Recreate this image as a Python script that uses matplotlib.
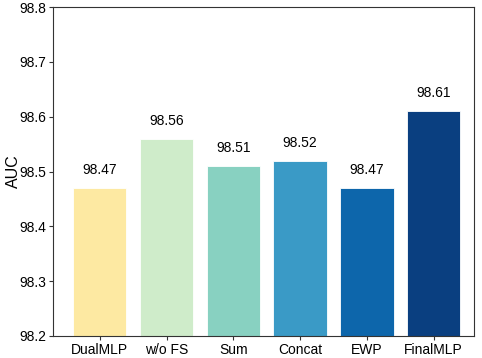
import matplotlib
matplotlib.use('Agg')
import matplotlib.pyplot as plt

# AUC of the model variants
models = ['DualMLP', 'w/o FS', 'Sum', 'Concat', 'EWP', 'FinalMLP']
auc = [98.47, 98.56, 98.51, 98.52, 98.47, 98.61]
colors = ['#fde9a2', '#cfecca', '#88d1c1', '#3a9ac6', '#0d66ab', '#0a3f80']
yticks = [98.2, 98.3, 98.4, 98.5, 98.6, 98.7, 98.8]

plt.rcParams['font.family'] = ['Liberation Sans', 'DejaVu Sans']

fig = plt.figure(figsize=(4.82, 3.58), dpi=100)
ax = fig.add_axes([0.11, 0.0615, 0.873, 0.9185])

x = range(len(models))
bars = ax.bar(x, auc, width=0.8, color=colors, edgecolor='white', linewidth=0.6)
for xi, v in zip(x, auc):
    ax.text(xi, v + 0.02, '%.2f' % v, ha='center', va='bottom', fontsize=10)

ax.set_xlim(-0.7, 5.6)
ax.set_ylim(98.2, 98.8)
ax.set_yticks(yticks)
ax.set_yticklabels(['%.1f' % t for t in yticks], fontsize=10)
ax.set_xticks(list(x))
ax.set_xticklabels(models, fontsize=10)
ax.set_ylabel('AUC', fontsize=11.5, labelpad=-1.5)
ax.tick_params(length=3, width=0.8, color='#333333', pad=2)
for s in ax.spines.values():
    s.set_color('#333333')
    s.set_linewidth(0.8)

fig.savefig('out.png', dpi=100)
